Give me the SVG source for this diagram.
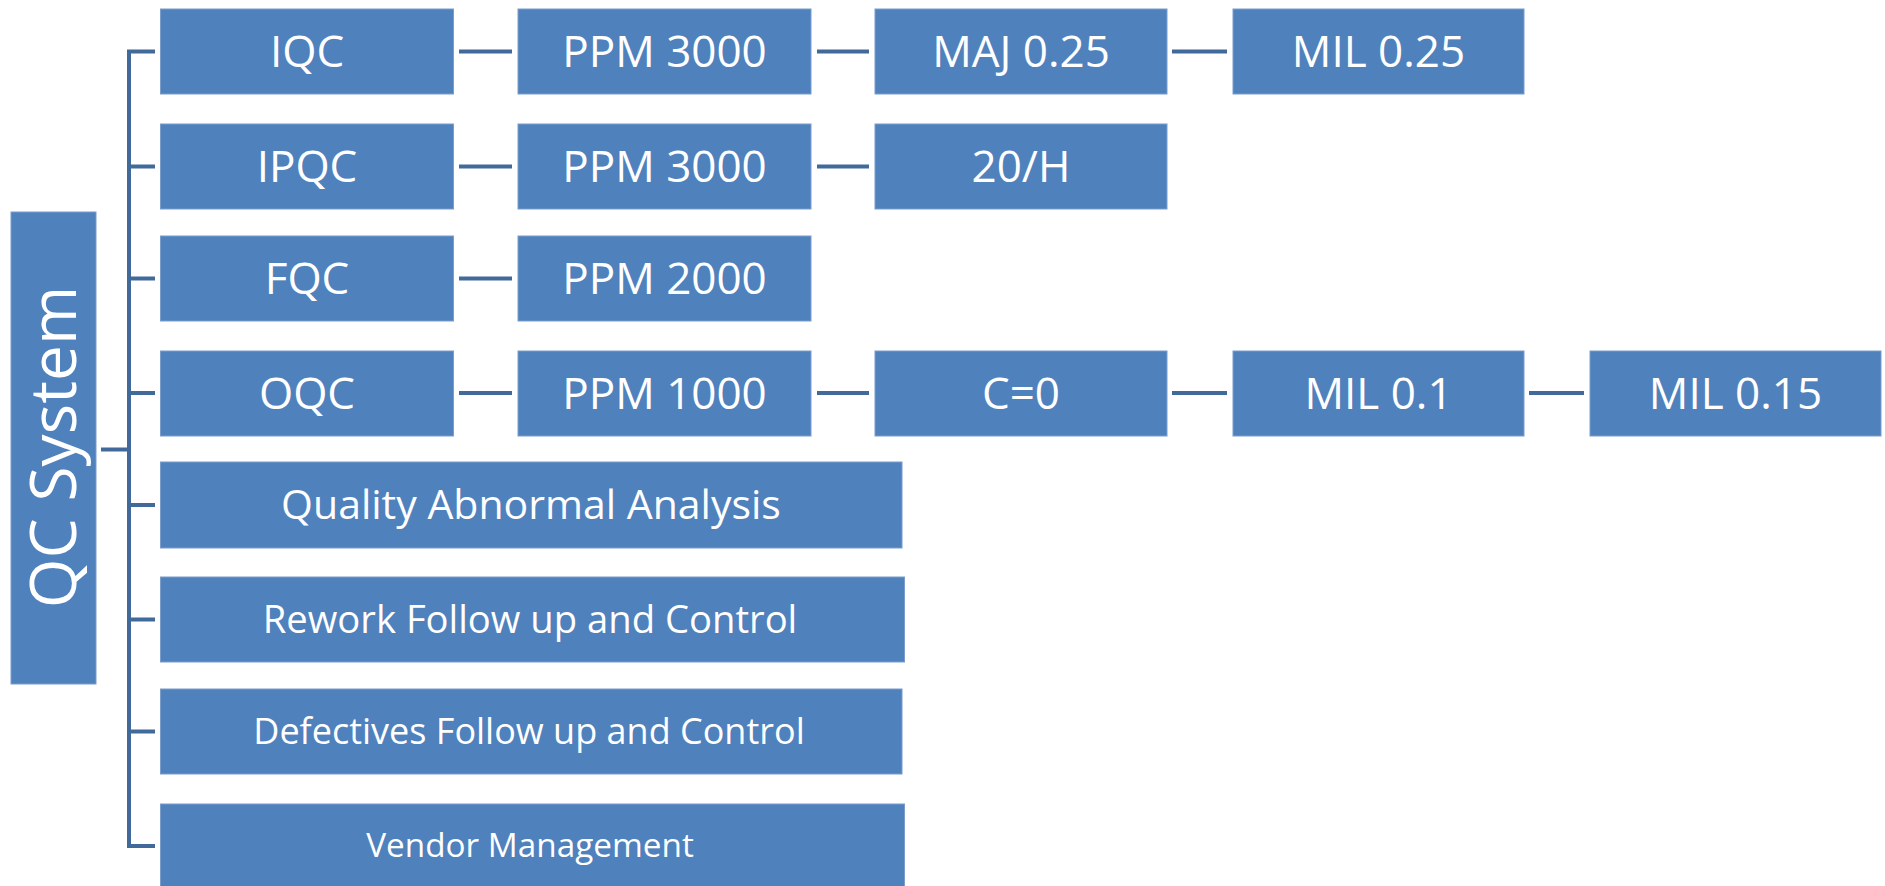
<svg xmlns="http://www.w3.org/2000/svg" width="1885" height="886" viewBox="0 0 1885 886">
<style>
.box{fill:#4F81BD;stroke:#7A9DCB;stroke-width:1}
.t{fill:#fff;font-family:"Open Sans","Liberation Sans",sans-serif;text-anchor:middle}
.c{stroke:#41699A;stroke-width:4;fill:none}
</style>
<rect width="1885" height="886" fill="#fff"/>
<g id="connectors">
<path class="c" d="M101 449.5H129M155 51.5H129V846H155M129 166.5H155M129 278.5H155M129 393H155M129 505H155M129 619.5H155M129 731.5H155"/>
<path class="c" d="M459 51.5H512M817 51.5H869M1172 51.5H1227"/>
<path class="c" d="M459 166.5H512M817 166.5H869"/>
<path class="c" d="M459 278.5H512"/>
<path class="c" d="M459 393H512M817 393H869M1172 393H1227M1529 393H1584"/>
</g>
<g id="qc-system"><rect class="box" x="11" y="212" width="85" height="472"/><text class="t" font-size="64" transform="translate(76 447) rotate(-90)">QC System</text></g>
<g id="iqc"><rect class="box" x="160.5" y="9" width="293" height="85"/><text class="t" font-size="44" x="307" y="67">IQC</text></g>
<g id="iqc-ppm"><rect class="box" x="518" y="9" width="293" height="85"/><text class="t" font-size="44" x="664.5" y="67">PPM 3000</text></g>
<g id="iqc-maj"><rect class="box" x="875" y="9" width="292" height="85"/><text class="t" font-size="44" x="1021" y="67">MAJ 0.25</text></g>
<g id="iqc-mil"><rect class="box" x="1233" y="9" width="291" height="85"/><text class="t" font-size="44" x="1378.5" y="67">MIL 0.25</text></g>
<g id="ipqc"><rect class="box" x="160.5" y="124" width="293" height="85"/><text class="t" font-size="44" x="307" y="182">IPQC</text></g>
<g id="ipqc-ppm"><rect class="box" x="518" y="124" width="293" height="85"/><text class="t" font-size="44" x="664.5" y="182">PPM 3000</text></g>
<g id="ipqc-rate"><rect class="box" x="875" y="124" width="292" height="85"/><text class="t" font-size="44" x="1021" y="182">20/H</text></g>
<g id="fqc"><rect class="box" x="160.5" y="236" width="293" height="85"/><text class="t" font-size="44" x="307" y="294">FQC</text></g>
<g id="fqc-ppm"><rect class="box" x="518" y="236" width="293" height="85"/><text class="t" font-size="44" x="664.5" y="294">PPM 2000</text></g>
<g id="oqc"><rect class="box" x="160.5" y="351" width="293" height="85"/><text class="t" font-size="44" x="307" y="409">OQC</text></g>
<g id="oqc-ppm"><rect class="box" x="518" y="351" width="293" height="85"/><text class="t" font-size="44" x="664.5" y="409">PPM 1000</text></g>
<g id="oqc-c0"><rect class="box" x="875" y="351" width="292" height="85"/><text class="t" font-size="44" x="1021" y="409">C=0</text></g>
<g id="oqc-mil1"><rect class="box" x="1233" y="351" width="291" height="85"/><text class="t" font-size="44" x="1378.5" y="409">MIL 0.1</text></g>
<g id="oqc-mil2"><rect class="box" x="1590" y="351" width="291" height="85"/><text class="t" font-size="44" x="1735.5" y="409">MIL 0.15</text></g>
<g id="qaa"><rect class="box" x="160.5" y="462" width="741.5" height="86"/><text class="t" font-size="41" x="531" y="519">Quality Abnormal Analysis</text></g>
<g id="rework"><rect class="box" x="160.5" y="577" width="744" height="85"/><text class="t" font-size="38.2" x="530" y="633">Rework Follow up and Control</text></g>
<g id="defectives"><rect class="box" x="160.5" y="689" width="741.5" height="85"/><text class="t" font-size="36" x="529" y="744">Defectives Follow up and Control</text></g>
<g id="vendor"><rect class="box" x="160.5" y="804" width="744" height="85"/><text class="t" font-size="33.3" x="530" y="857">Vendor Management</text></g>
</svg>
